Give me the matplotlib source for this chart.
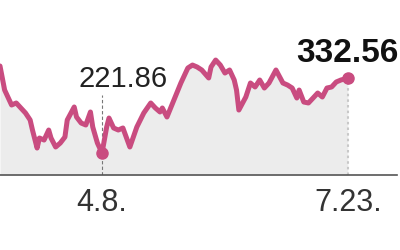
import matplotlib
matplotlib.use('Agg')
import matplotlib.pyplot as plt
import pandas as pd

plt.rcParams['font.family'] = ['Liberation Sans Narrow', 'Liberation Sans', 'DejaVu Sans']

# (year assumed)
dates = ['02-23', '02-25', '02-28', '03-02', '03-04', '03-06', '03-08', '03-09',
         '03-11', '03-12', '03-14', '03-16', '03-17', '03-19', '03-21', '03-23',
         '03-24', '03-27', '03-28', '03-30', '04-01', '04-03', '04-04', '04-06',
         '04-08', '04-10', '04-11', '04-13', '04-15', '04-17', '04-20', '04-23',
         '04-26', '04-29', '05-01', '05-03', '05-04', '05-06', '05-09', '05-12',
         '05-15', '05-17', '05-19', '05-21', '05-24', '05-25', '05-27', '05-29',
         '05-31', '06-02', '06-04', '06-05', '06-06', '06-09', '06-11', '06-13',
         '06-15', '06-17', '06-19', '06-22', '06-25', '06-27', '06-29', '06-30',
         '07-01', '07-02', '07-04', '07-06', '07-08', '07-10', '07-12', '07-14',
         '07-16', '07-18', '07-20', '07-23']
values = [350.3, 314.8, 292.7, 295.7, 288.3, 280.9, 270.6, 255.8,
          229.2, 244.0, 241.0, 255.8, 244.0, 230.7, 236.6, 245.5,
          270.6, 289.8, 275.0, 266.1, 263.2, 282.4, 260.2, 236.6,
          221.86, 260.2, 273.5, 258.8, 255.8, 258.8, 230.7, 260.2,
          280.9, 295.7, 288.3, 282.4, 288.3, 275.0, 300.1, 325.2,
          347.3, 351.7, 348.8, 344.4, 332.6, 348.8, 359.1, 351.7,
          339.9, 344.4, 329.6, 314.8, 285.3, 304.5, 325.2, 319.3,
          329.6, 317.8, 325.2, 344.4, 325.2, 322.2, 317.8, 310.4,
          303.0, 314.8, 297.1, 295.7, 303.0, 310.4, 304.5, 317.8,
          319.3, 326.7, 329.6, 332.56]
tick_labels = ['4.8.', '7.23.']

x = pd.to_datetime(['2021-' + d for d in dates])
low_i = values.index(min(values))
last_i = len(values) - 1

line_col = '#c94c80'
ymin = 189.4

fig = plt.figure(figsize=(4, 2.5), dpi=100)
ax = fig.add_axes([0, 0.3, 0.9925, 0.7])

ax.fill_between(x, values, ymin, color='#ececec', lw=0, zorder=1)
ax.vlines(x[low_i], ymin, values[low_i] + 86, colors='#777777', lw=0.8,
          linestyles=(0, (3, 2)), zorder=2)
ax.vlines(x[last_i], ymin, values[last_i], colors='#c8c8c8', lw=1.5,
          linestyles=(0, (1.2, 1.5)), zorder=2)
ax.plot(x, values, color=line_col, lw=3.6, solid_joinstyle='round',
        solid_capstyle='round', zorder=3)
ax.plot(x[[low_i, last_i]], [values[low_i], values[last_i]], 'o',
        color=line_col, ms=8, zorder=4)

ax.annotate(f'{values[low_i]:.2f}', (x[low_i], values[low_i]),
            xytext=(15, 47.5), textcoords='offset points', ha='center',
            va='baseline', fontsize=21, color='#222222')
ax.annotate(f'{values[last_i]:.2f}', (x[last_i], values[last_i]),
            xytext=(0, 11.5), textcoords='offset points', ha='center',
            va='baseline', fontsize=24, fontweight='bold', color='#111111')

ax.set_ylim(ymin, 447.7)
ax.set_xlim(x[low_i] - pd.Timedelta(days=44), x[low_i] + pd.Timedelta(days=127.2))
ax.set_xticks([x[low_i], x[last_i]])
ax.set_xticklabels(tick_labels, fontsize=22, color='#333333')
ax.tick_params(axis='x', length=0, pad=9.5)
ax.set_yticks([])
for s in ['top', 'left', 'right']:
    ax.spines[s].set_visible(False)
ax.spines['bottom'].set_color('#555555')
ax.spines['bottom'].set_linewidth(1.2)
ax.patch.set_alpha(0)

fig.savefig('out.png', dpi=100)
